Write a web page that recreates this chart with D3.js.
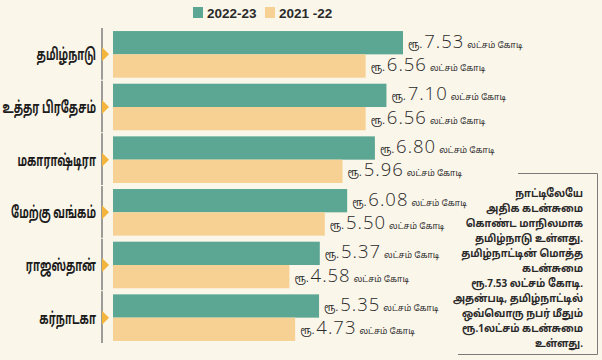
<!DOCTYPE html>
<html>
<head>
<meta charset="utf-8">
<script src="https://cdn.jsdelivr.net/npm/d3@7/dist/d3.min.js"></script>
<style>
html,body{margin:0;padding:0;background:#fbf6ea;}
svg{display:block;}
</style>
</head>
<body>
<svg id="chart" width="602" height="360"></svg>
<script>
const states = ["தமிழ்நாடு","உத்தர பிரதேசம்","மகாராஷ்டிரா","மேற்கு வங்கம்","ராஜஸ்தான்","கர்நாடகா"];
const values2223 = [7.53, 7.10, 6.80, 6.08, 5.37, 5.35];
const values2122 = [6.56, 6.56, 5.96, 5.50, 4.58, 4.73];
const seriesNames = ["2022-23", "2021 -22"];
const unitText = "லட்சம் கோடி";
const rupee = "ரூ.";
const noteLines = ["நாட்டிலேயே","அதிக கடன்சுமை","கொண்ட மாநிலமாக","தமிழ்நாடு உள்ளது.","தமிழ்நாட்டின் மொத்த","கடன்சுமை","ரூ.7.53 லட்சம் கோடி.","அதன்படி, தமிழ்நாட்டில்","ஒவ்வொரு நபர் மீதும்","ரூ.1லட்சம் கடன்சுமை","உள்ளது."];

const colors = ["#5ba793", "#f6d193"];
const svg = d3.select("#chart");
svg.append("rect").attr("width",602).attr("height",360).attr("fill","#fbf6ea");

const tamilFont = "'Noto Sans Tamil','Noto Sans','Lato',sans-serif";
const x = d3.scaleLinear().domain([0, 7.53]).range([113, 403]);
const y = d3.scaleBand().domain(states).range([30, 342]).paddingInner(0.115).paddingOuter(0.02);
const y2 = d3.scaleBand().domain([0,1]).range([0, y.bandwidth()]);

// legend
const leg = svg.append("g");
[[193,207],[265,279]].forEach((p,i)=>{
  leg.append("rect").attr("x",p[0]).attr("y",7).attr("width",10).attr("height",11).attr("fill",colors[i]);
  leg.append("text").attr("x",p[1]).attr("y",17.5).text(seriesNames[i])
    .attr("font-family","'Liberation Sans',Arial,sans-serif").attr("font-weight","bold")
    .attr("font-size",13.5).attr("fill","#2a2a2a");
});

const groups = svg.selectAll("g.grp").data(states).join("g").attr("class","grp")
  .attr("transform", d=>`translate(0,${y(d)})`);

// axis segments
groups.append("line").attr("x1",102).attr("x2",102).attr("y1",-3).attr("y2",y.bandwidth()+2)
  .attr("stroke","#6b6b6b").attr("stroke-width",1.3);
// triangle marker
groups.append("path").attr("d",`M102,${y.bandwidth()/2-7}L109,${y.bandwidth()/2}L102,${y.bandwidth()/2+7}Z`)
  .attr("fill","#f3b53c");
// category labels (condensed horizontally like the reference's narrow type)
groups.append("g").attr("transform",`translate(96,${y.bandwidth()/2+6}) scale(0.62,1)`)
  .append("text").attr("x",0).attr("y",0).attr("text-anchor","end")
  .text(d=>d).attr("font-family",tamilFont).attr("font-weight","bold").attr("font-size",16.5)
  .attr("fill","#1c1c1c");

[values2223, values2122].forEach((vals,si)=>{
  groups.append("rect").attr("x",x(0)).attr("y",y2(si)).attr("height",y2.bandwidth())
    .attr("width",(d,i)=>x(vals[i])-x(0)).attr("fill",colors[si]);
  const t = groups.append("text").attr("y",y2(si)+y2.bandwidth()/2+5)
    .attr("x",(d,i)=>x(vals[i])+5).attr("fill","#2a2a2a");
  t.append("tspan").text(rupee).attr("font-family",tamilFont).attr("font-size",10);
  t.append("tspan").attr("dx",2).text((d,i)=>vals[i].toFixed(2))
    .attr("font-family","'Open Sans',sans-serif").attr("font-weight",300).attr("font-size",18.5)
    .attr("letter-spacing",1);
  t.append("tspan").attr("dx",3).text(unitText).attr("font-family",tamilFont).attr("font-size",8.5);
});

// note box
svg.append("path").attr("d","M518,173.5H597.5V354.5H458").attr("fill","none")
  .attr("stroke","#7a7a7a").attr("stroke-width",1);
svg.append("g").attr("transform","translate(583,0) scale(0.9,1)")
  .selectAll("text").data(noteLines).join("text")
  .attr("x",0).attr("y",(d,i)=>197+i*15).attr("text-anchor","end").text(d=>d)
  .attr("font-family",tamilFont).attr("font-weight","bold").attr("font-size",11).attr("fill","#2a2a2a");
</script>
</body>
</html>
